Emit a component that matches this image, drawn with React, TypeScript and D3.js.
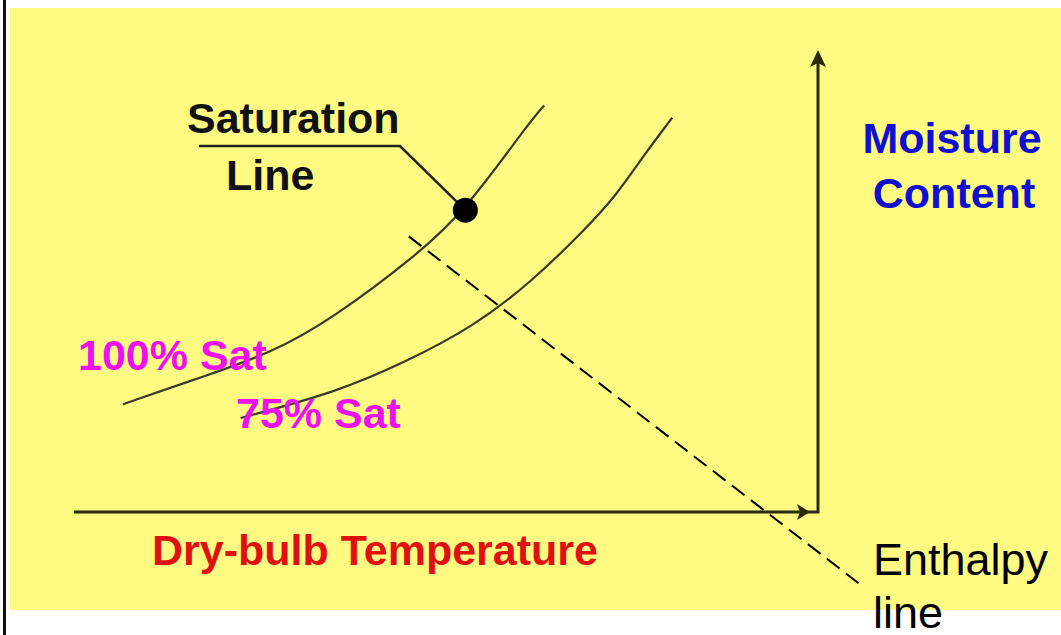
// App.tsx
import React, { useEffect, useRef } from 'react';
import * as d3 from 'd3';

// chart values (temperature in °C, moisture in g/kg)
const sat100: [number, number][] = [
  [3.3, 7.0], [8.7, 8.8], [13.2, 10.3], [17.3, 12.5],
  [23.2, 16.8], [26.3, 19.6], [30.6, 25.3], [31.6, 26.4],
];
const sat75: [number, number][] = [
  [11.2, 6.1], [17.7, 7.8], [22.2, 9.7], [26.8, 12.0], [30.7, 14.9],
  [34.3, 18.3], [36.4, 20.5], [38.4, 23.3], [40.2, 25.6],
];
const enthalpyLine: [number, number][] = [[22.5, 17.9], [53.1, -4.9]];
const statePoint: [number, number] = [26.3, 19.6];
const tempDomain = [0, 50];
const moistureDomain = [0, 30];

const labels = {
  saturation: ['Saturation', 'Line'],
  sat100: '100% Sat',
  sat75: '75% Sat',
  xTitle: 'Dry-bulb Temperature',
  yTitle: ['Moisture', 'Content'],
  enthalpy: ['Enthalpy', 'line'],
};

const W = 1061, H = 635;
const FONT = "'Liberation Sans', Arial, sans-serif";

const App = () => {
  const ref = useRef<SVGSVGElement>(null);

  useEffect(() => {
    if (!ref.current) return;
    const svg = d3.select(ref.current);
    svg.selectAll('*').remove();

    const x = d3.scaleLinear().domain(tempDomain).range([74, 818]);
    const y = d3.scaleLinear().domain(moistureDomain).range([512, 50]);

    // page frame
    svg.append('rect').attr('width', W).attr('height', H).attr('fill', '#fff');
    svg.append('rect')
      .attr('x', 10).attr('y', 8).attr('width', W - 10).attr('height', 602)
      .attr('fill', '#fffb82');
    svg.append('rect').attr('x', 3).attr('y', 0).attr('width', 3).attr('height', H).attr('fill', '#111');

    // axes: horizontal with arrow, vertical with arrow
    const axisColor = '#2a2a10';
    svg.append('path')
      .attr('d', `M${x(0)},${y(0)}H${x(50)}V${y(30) + 10}`)
      .attr('fill', 'none').attr('stroke', axisColor).attr('stroke-width', 3);
    svg.append('path')
      .attr('d', `M${x(50)},${y(30)}l-8,17l8,-4l8,4z`)
      .attr('fill', axisColor);
    const tipX = x(50) - 8;
    svg.append('path')
      .attr('d', `M${tipX},${y(0)}l-13,-8l3,8l-3,8z`)
      .attr('fill', axisColor);

    // saturation curves
    const line = d3.line<[number, number]>()
      .x(d => x(d[0])).y(d => y(d[1]))
      .curve(d3.curveBasis);
    [sat100, sat75].forEach(s => {
      svg.append('path').attr('d', line(s) ?? '')
        .attr('fill', 'none').attr('stroke', '#3a3a2a').attr('stroke-width', 2.2);
    });

    // enthalpy dashed line
    svg.append('path').attr('d', d3.line<[number, number]>().x(d => x(d[0])).y(d => y(d[1]))(enthalpyLine) ?? '')
      .attr('fill', 'none').attr('stroke', '#000').attr('stroke-width', 2)
      .attr('stroke-dasharray', '16,8');

    // callout to state point
    const px = x(statePoint[0]), py = y(statePoint[1]);
    svg.append('path').attr('d', `M199,146H400L${px},${py}`)
      .attr('fill', 'none').attr('stroke', '#222').attr('stroke-width', 2.5);
    svg.append('circle').attr('cx', px).attr('cy', py).attr('r', 12.5).attr('fill', '#000');

    const text = (t: string, tx: number, ty: number, color: string, size: number, weight = 'bold', anchor = 'start') =>
      svg.append('text').attr('x', tx).attr('y', ty).text(t)
        .attr('fill', color).attr('font-size', size).attr('font-weight', weight)
        .attr('font-family', FONT).attr('text-anchor', anchor);

    text(labels.saturation[0], 187, 133, '#111', 43);
    text(labels.saturation[1], 226, 190, '#111', 43);
    text(labels.sat100, 78, 370, '#ee10ee', 43);
    text(labels.sat75, 236, 428, '#ee10ee', 43);
    text(labels.xTitle, 152, 565, '#e01010', 43);
    text(labels.yTitle[0], 952, 153, '#1010d0', 43, 'bold', 'middle');
    text(labels.yTitle[1], 954, 208, '#1010d0', 43, 'bold', 'middle');
    text(labels.enthalpy[0], 873, 575, '#000', 45, 'normal');
    text(labels.enthalpy[1], 873, 628, '#000', 45, 'normal');
  }, []);

  return (
    <svg ref={ref} width={W} height={H} style={{ position: 'absolute', left: 0, top: 0 }} />
  );
};

export default App;
